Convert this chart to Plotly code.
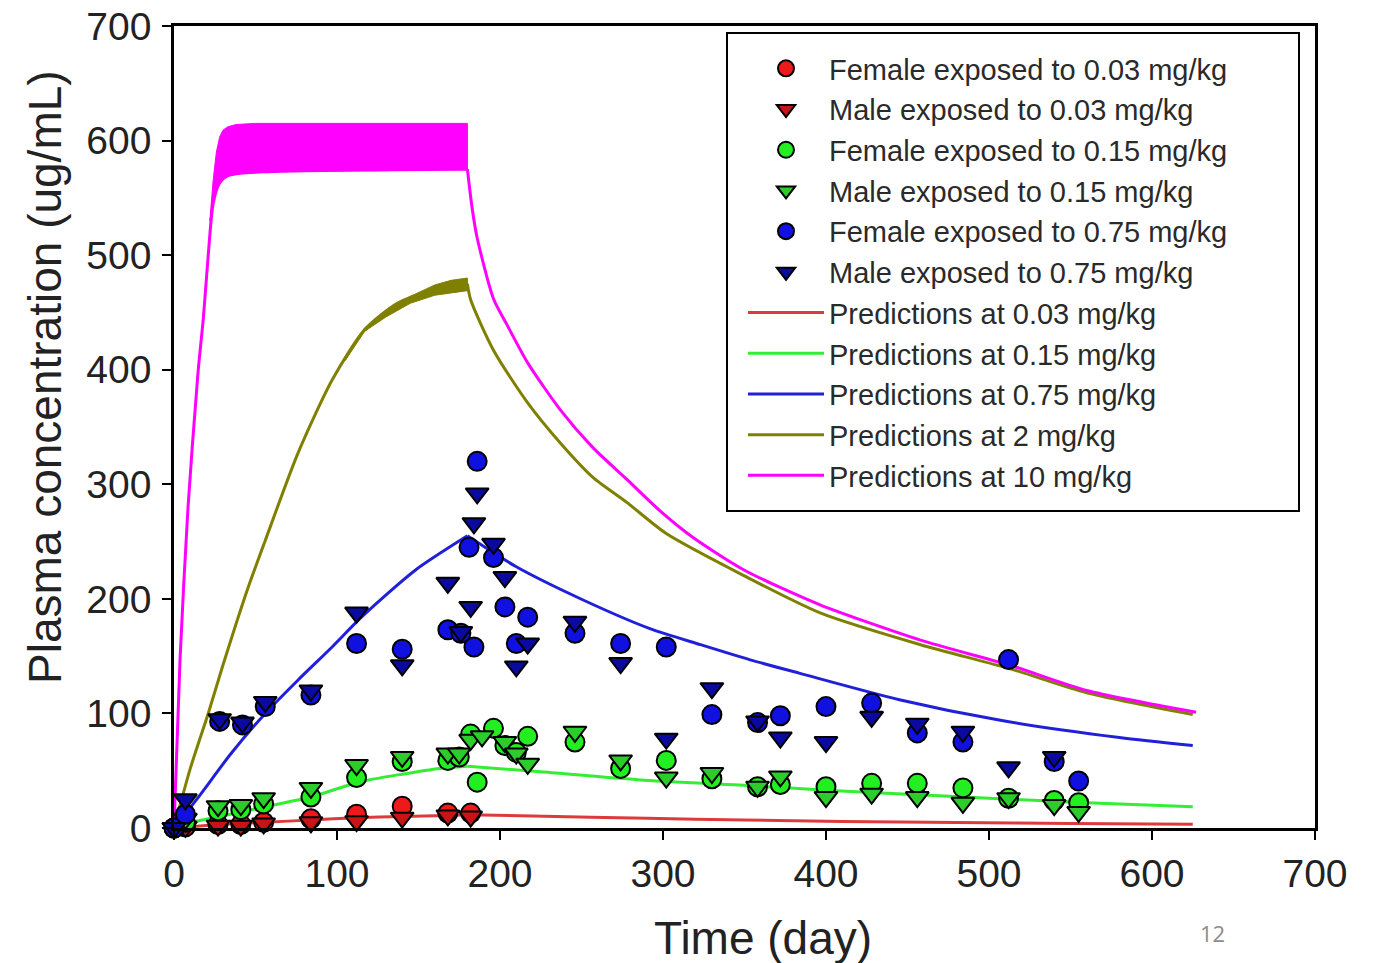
import plotly.graph_objects as go

FONT = "Liberation Sans, Arial, sans-serif"

# ---------------- observed data (day, ug/mL) ----------------
f003_day = [0, 7, 27, 41, 55, 84, 112, 140, 168, 182]
f003_val = [0, 1, 3, 3, 5, 8, 12, 19, 13, 13]
m003_day = [0, 7, 27, 41, 55, 84, 112, 140, 168, 182]
m003_val = [0, 1, 2, 2, 4, 5, 6, 9, 11, 10]

f015_day = [0, 7, 27, 41, 55, 84, 112, 140, 168, 175, 182, 186, 196, 203, 210, 217,
            246, 274, 302, 330, 358, 372, 400, 428, 456, 484, 512, 540, 555]
f015_val = [0, 5, 15, 16, 21, 27, 44, 58, 59, 62, 82, 40, 87, 72, 66, 80,
            75, 52, 59, 43, 36, 38, 36, 39, 39, 35, 26, 24, 22]
m015_day = [0, 7, 27, 41, 55, 84, 112, 140, 168, 175, 182, 189, 203, 210, 217,
            246, 274, 302, 330, 358, 372, 400, 428, 456, 484, 512, 540, 555]
m015_val = [0, 8, 19, 20, 26, 35, 55, 62, 65, 65, 77, 80, 75, 65, 56,
            84, 59, 44, 48, 36, 45, 27, 30, 27, 22, 26, 20, 14]

f075_day = [0, 7, 28, 42, 56, 84, 112, 140, 168, 176, 181, 184, 186, 196, 203, 210, 217,
            246, 274, 302, 330, 358, 372, 400, 428, 456, 484, 512, 540, 555]
f075_val = [0, 12, 93, 90, 106, 116, 161, 156, 173, 170, 245, 158, 320, 236, 193, 161, 184,
            170, 161, 158, 99, 92, 98, 106, 109, 83, 75, 147, 58, 41]
m075_day = [0, 7, 28, 42, 56, 84, 112, 140, 168, 176, 182, 184, 186, 196, 203, 210, 217,
            246, 274, 302, 330, 358, 372, 400, 428, 456, 484, 512, 540]
m075_val = [0, 25, 95, 92, 110, 120, 188, 142, 214, 171, 193, 266, 292, 248, 219, 141, 161,
            180, 144, 78, 122, 93, 79, 75, 97, 91, 84, 53, 62]

# ---------------- model predictions ----------------
# dosing phase (0-180 d) and post-dosing phase (180-625 d)
p003_up_day = [0, 28, 56, 84, 112, 140, 168, 180]
p003_up_val = [0, 3, 5, 7, 9, 10, 11, 11.5]
p003_dn_day = [180, 220, 290, 350, 410, 480, 550, 625]
p003_dn_val = [11.5, 10.5, 8.5, 7, 5.7, 4.8, 4, 3.3]

p015_up_day = [0, 14, 28, 56, 84, 113, 140, 163, 180]
p015_up_val = [0, 6, 10, 18.6, 27, 40, 47, 52, 54]
p015_dn_day = [180, 225, 286, 347, 400, 450, 500, 560, 625]
p015_dn_val = [54, 49, 42, 37.5, 33, 29.5, 26, 22, 18.6]

p075_up_day = [0, 15, 35, 56, 76, 97, 115, 148, 180]
p075_up_val = [0, 27, 65, 100, 129, 158, 184, 225, 255]
p075_dn_day = [180, 210, 251, 292, 323, 353, 384, 445, 507, 580, 625]
p075_dn_val = [255, 228, 199, 174, 160, 147, 135, 112, 94, 79, 72]

p2_up_day = [0, 10, 21, 30, 45, 56, 76, 97, 117, 137, 158, 180]
p2_up_val = [0, 52, 100, 142, 208, 251, 327, 391, 435, 458, 469, 475]
p2_dn_day = [180, 182, 196, 217, 237, 257, 278, 302, 350, 396, 458, 513, 560, 625]
p2_dn_val = [475, 461, 417, 371, 336, 306, 284, 257, 220, 188, 160, 139, 118, 99]
# daily-dosing fluctuation envelope for 2 mg/kg near the end of dosing
p2_band_day = [105, 117, 130, 145, 160, 170, 180]
p2_band_hi = [408, 436.5, 452, 464, 474, 478, 480]
p2_band_lo = [408, 433.5, 446, 458, 465, 467, 469]

p10_up_day = [0, 3.7, 8.6, 14.7, 18, 21, 24, 28, 34, 60, 180]
p10_up_val = [0, 147, 280, 397, 445, 500, 545, 563, 570, 573, 575]
p10_dn_day = [180, 183, 186, 196, 204, 217, 237, 257, 278, 298, 318, 350, 396, 458, 513, 560, 627]
p10_dn_val = [575, 540, 515, 462, 440, 406, 365, 332, 304, 277, 254, 225, 195, 164, 142, 120, 101]
# daily-dosing fluctuation envelope for 10 mg/kg (plateau)
p10_hi_day = [22, 24, 26, 28, 30, 33, 38, 50, 180, 180]
p10_hi_val = [530, 565, 590, 603, 609, 612, 614, 615, 615, 575]
p10_lo_day = [180, 60, 40, 34, 30, 27, 24, 22]
p10_lo_val = [575, 573, 571, 569, 567, 562, 545, 530]

x_ticks = [0, 100, 200, 300, 400, 500, 600, 700]
y_ticks = [0, 100, 200, 300, 400, 500, 600, 700]

fig = go.Figure()

# fluctuation bands
fig.add_trace(go.Scatter(x=p10_hi_day + p10_lo_day, y=p10_hi_val + p10_lo_val,
                         fill="toself", fillcolor="#ff00ff", mode="lines",
                         line=dict(color="#ff00ff", width=1),
                         showlegend=False, hoverinfo="skip"))
fig.add_trace(go.Scatter(x=p2_band_day + p2_band_day[::-1], y=p2_band_hi + p2_band_lo[::-1],
                         fill="toself", fillcolor="#808000", mode="lines",
                         line=dict(color="#808000", width=1),
                         showlegend=False, hoverinfo="skip"))

obs = [
    ("Female exposed to 0.03 mg/kg", f003_day, f003_val, "circle", "#ee1a1a", 19),
    ("Male exposed to 0.03 mg/kg", m003_day, m003_val, "triangle-down", "#c81414", 20),
    ("Female exposed to 0.15 mg/kg", f015_day, f015_val, "circle", "#22ee22", 19),
    ("Male exposed to 0.15 mg/kg", m015_day, m015_val, "triangle-down", "#2ccc2c", 20),
    ("Female exposed to 0.75 mg/kg", f075_day, f075_val, "circle", "#1010e0", 19),
    ("Male exposed to 0.75 mg/kg", m075_day, m075_val, "triangle-down", "#0a0aa0", 20),
]
preds = [
    ("Predictions at 0.03 mg/kg", p003_up_day, p003_up_val, p003_dn_day, p003_dn_val, "#dd3b3b"),
    ("Predictions at 0.15 mg/kg", p015_up_day, p015_up_val, p015_dn_day, p015_dn_val, "#33ee33"),
    ("Predictions at 0.75 mg/kg", p075_up_day, p075_up_val, p075_dn_day, p075_dn_val, "#2020d8"),
    ("Predictions at 2 mg/kg", p2_up_day, p2_up_val, p2_dn_day, p2_dn_val, "#808000"),
    ("Predictions at 10 mg/kg", p10_up_day, p10_up_val, p10_dn_day, p10_dn_val, "#ff00ff"),
]

for k, (name, xu, yu, xd, yd, col) in enumerate(preds):
    fig.add_trace(go.Scatter(x=xu, y=yu, mode="lines", name=name, legendgroup=name,
                             line=dict(color=col, width=3, shape="spline", smoothing=0.7),
                             legendrank=100 + k))
    fig.add_trace(go.Scatter(x=xd, y=yd, mode="lines", name=name, legendgroup=name,
                             showlegend=False,
                             line=dict(color=col, width=3, shape="spline", smoothing=0.7)))

for i, (name, xd, yd, sym, col, sz) in enumerate(obs):
    fig.add_trace(go.Scatter(x=xd, y=yd, mode="markers", name=name,
                             marker=dict(symbol=sym, color=col, size=sz,
                                         line=dict(color="black", width=2)),
                             cliponaxis=False, legendrank=i + 1))

# page geometry (the html body adds an 8 px offset)
BODY = 8
x0p, x1p = 174, 1315
y0p, y1p = 26, 828
W, H = 1378 - BODY, 963 - BODY
pw, ph = x1p - x0p, y1p - y0p


def px(x):
    return (x - x0p) / pw


def py(y):
    return (y1p - y) / ph


fig.update_layout(
    width=W, height=H,
    margin=dict(l=x0p - BODY, r=W - (x1p - BODY), t=y0p - BODY, b=H - (y1p - BODY),
                autoexpand=False),
    paper_bgcolor="white", plot_bgcolor="white",
    font=dict(family=FONT, color="#222222"),
    showlegend=True,
    legend=dict(x=px(743), y=py(43), xanchor="left", yanchor="top",
                bgcolor="rgba(255,255,255,0)", borderwidth=0,
                font=dict(family=FONT, size=29, color="#2a2a2a"),
                itemwidth=76, tracegroupgap=0, traceorder="normal"),
    shapes=[dict(type="rect", xref="paper", yref="paper",
                 x0=px(727), x1=px(1299), y0=py(511), y1=py(33),
                 line=dict(color="black", width=2))],
    annotations=[
        dict(text="Plasma concentration (ug/mL)", textangle=-90, xref="paper", yref="paper",
             x=px(45), y=py(377), showarrow=False, xanchor="center", yanchor="middle",
             font=dict(family=FONT, size=46, color="#222222")),
        dict(text="Time (day)", xref="paper", yref="paper",
             x=px(763), y=py(938), showarrow=False, xanchor="center", yanchor="middle",
             font=dict(family=FONT, size=46, color="#222222")),
        dict(text="12", xref="paper", yref="paper",
             x=px(1212), y=py(933), showarrow=False, xanchor="center", yanchor="middle",
             font=dict(family="Open Sans, Liberation Sans, sans-serif", size=22, color="#8c8c8c")),
    ],
)

fig.update_xaxes(range=[0, 700], tickvals=x_ticks, ticktext=[str(v) for v in x_ticks],
                 showline=True, linecolor="black", linewidth=2.5, mirror=True,
                 ticks="outside", ticklen=9, tickwidth=2, tickcolor="black",
                 showgrid=False, zeroline=False, ticklabelstandoff=0, automargin=False,
                 ticklabeloverflow="allow",
                 tickfont=dict(family=FONT, size=39, color="#222222"))
fig.update_yaxes(range=[0, 700], tickvals=y_ticks, ticktext=[str(v) for v in y_ticks],
                 showline=True, linecolor="black", linewidth=2.5, mirror=True,
                 ticks="outside", ticklen=9, tickwidth=2, tickcolor="black",
                 showgrid=False, zeroline=False, ticklabelstandoff=3, automargin=False,
                 ticklabeloverflow="allow",
                 tickfont=dict(family=FONT, size=39, color="#222222"))

fig.write_html("out.html")
